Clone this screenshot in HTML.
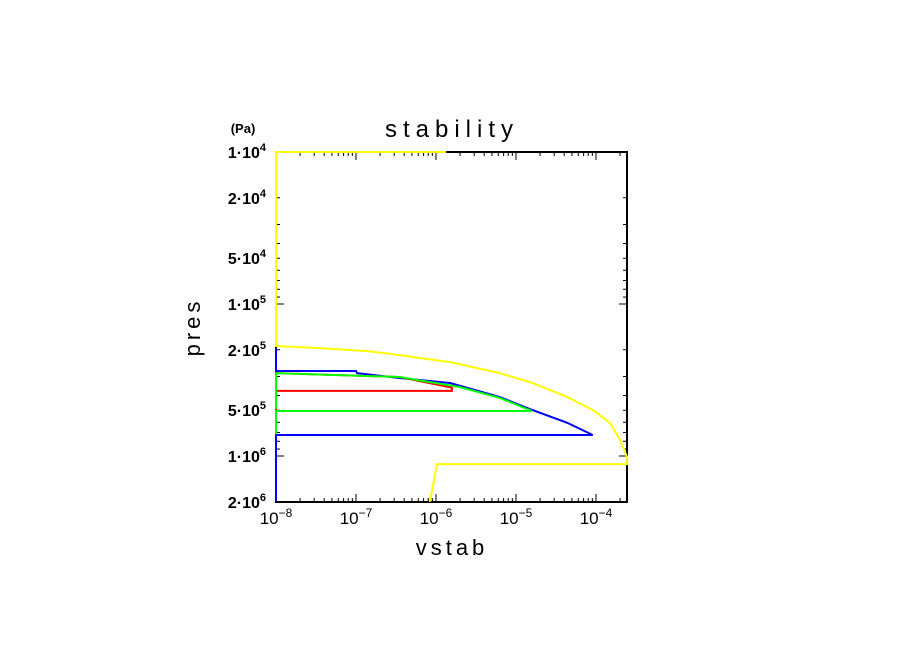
<!DOCTYPE html>
<html><head><meta charset="utf-8">
<style>
html,body{margin:0;padding:0;background:#fff;}
svg{display:block;font-family:"Liberation Sans",sans-serif;}
</style></head>
<body>
<svg id="chart" width="904" height="654" viewBox="0 0 904 654">
  <text x="452" y="137" text-anchor="middle" font-size="24" letter-spacing="6">stability</text>
  <text x="243" y="133" text-anchor="middle" font-size="13" font-weight="bold">(Pa)</text>
  <text x="452" y="555" text-anchor="middle" font-size="22" letter-spacing="4">vstab</text>
  <text transform="translate(200,327) rotate(-90)" text-anchor="middle" font-size="22" letter-spacing="4">pres</text>
  <g id="axes"></g>
  <g id="series"></g>
</svg>
<script>
const xTickExps = [-8, -7, -6, -5, -4];
const yTickVals = [1e4, 2e4, 5e4, 1e5, 2e5, 5e5, 1e6, 2e6];
const yTickMant = ["1", "2", "5", "1", "2", "5", "1", "2"];
const yTickExp = ["4", "4", "4", "5", "5", "5", "6", "6"];

const yellowX = [1.33e-6, 1e-8, 1e-8, 3.5e-8, 1.4e-7, 3.5e-7, 1.5e-6, 6.3e-6, 1.6e-5, 4.4e-5, 9.1e-5, 1.5e-4, 2.0e-4, 2.45e-4, 2.45e-4, 1.03e-6, 8.4e-7];
const yellowP = [1e4, 1e4, 1.89e5, 1.95e5, 2.04e5, 2.17e5, 2.41e5, 2.85e5, 3.31e5, 4.1e5, 4.98e5, 6.06e5, 7.86e5, 1.02e6, 1.13e6, 1.13e6, 2e6];
const blueX = [1e-8, 1e-8, 1e-7, 1.03e-7, 3.5e-7, 1.5e-6, 6.3e-6, 1.6e-5, 4.4e-5, 9.1e-5, 1e-8, 1e-8];
const blueP = [1.95e5, 2.76e5, 2.76e5, 2.85e5, 3.07e5, 3.31e5, 4.1e5, 4.98e5, 6.06e5, 7.28e5, 7.28e5, 2e6];
const redX = [1e-8, 3.5e-7, 1.58e-6, 1.58e-6, 1e-8, 1e-8];
const redP = [2.85e5, 3.02e5, 3.55e5, 3.73e5, 3.73e5, 5.06e5];
const greenX = [1e-8, 1e-8, 3.5e-7, 2e-6, 6.3e-6, 1.58e-5, 1e-8, 1e-8];
const greenP = [4.9e5, 2.85e5, 3.02e5, 3.52e5, 4.15e5, 5.06e5, 5.06e5, 7.2e5];

const X0 = 276, X1 = 627, Y0 = 152, Y1 = 502;
const xMinLog = -8, pxPerDecX = 80;
const yMinLog = 4, pxPerDecY = 152;
function xs(v){ return X0 + (Math.log10(v) - xMinLog) * pxPerDecX; }
function ys(p){ return Y0 + (Math.log10(p) - yMinLog) * pxPerDecY; }

const NS = "http://www.w3.org/2000/svg";
const axes = document.getElementById('axes');
const seriesG = document.getElementById('series');

function line(parent, x1, y1, x2, y2, name){
  const l = document.createElementNS(NS, 'line');
  l.setAttribute('x1', x1); l.setAttribute('y1', y1);
  l.setAttribute('x2', x2); l.setAttribute('y2', y2);
  l.setAttribute('stroke', '#000'); l.setAttribute('stroke-width', '1');
  
  
  parent.appendChild(l);
}

const frame = document.createElementNS(NS, 'rect');
frame.setAttribute('x', X0); frame.setAttribute('y', Y0);
frame.setAttribute('width', X1 - X0); frame.setAttribute('height', Y1 - Y0);
frame.setAttribute('fill', 'none'); frame.setAttribute('stroke', '#000'); frame.setAttribute('stroke-width', '2');


axes.appendChild(frame);

for (let e = -8; e <= -4; e++) {
  for (let m = 1; m <= 9; m++) {
    const v = m * Math.pow(10, e);
    const x = xs(v);
    if (x > X1 + 0.5) continue;
    const len = m === 1 ? 8 : 4;
    line(axes, x, Y1, x, Y1 - len, 'x-tick');
    line(axes, x, Y0, x, Y0 + len, 'x-tick-top');
  }
}
xTickExps.forEach(e => {
  const t = document.createElementNS(NS, 'text');
  t.setAttribute('x', xs(Math.pow(10, e)));
  t.setAttribute('y', 524);
  t.setAttribute('text-anchor', 'middle');
  t.setAttribute('font-size', '17');
  t.innerHTML = '10<tspan dy="-7" font-size="12">' + (e < 0 ? '\u2212' + (-e) : e) + '</tspan>';
  
  
  axes.appendChild(t);
});

for (let e = 4; e <= 6; e++) {
  for (let m = 1; m <= 9; m++) {
    const p = m * Math.pow(10, e);
    const y = ys(p);
    if (y > Y1 + 0.5) continue;
    const len = m === 1 ? 8 : 4;
    line(axes, X0, y, X0 + len, y, 'y-tick');
    line(axes, X1, y, X1 - len, y, 'y-tick-right');
  }
}
yTickVals.forEach((p, i) => {
  const t = document.createElementNS(NS, 'text');
  t.setAttribute('x', 266);
  t.setAttribute('y', ys(p) + 6);
  t.setAttribute('text-anchor', 'end');
  t.setAttribute('font-size', '16');
  t.setAttribute('font-weight', 'bold');
  t.innerHTML = yTickMant[i] + '\u00b710<tspan dy="-7" font-size="11">' + yTickExp[i] + '</tspan>';
  
  
  axes.appendChild(t);
});

function series(xsArr, psArr, color, name){
  const pl = document.createElementNS(NS, 'polyline');
  pl.setAttribute('points', xsArr.map((v, i) => xs(v).toFixed(1) + ',' + ys(psArr[i]).toFixed(1)).join(' '));
  pl.setAttribute('fill', 'none');
  pl.setAttribute('stroke', color);
  pl.setAttribute('stroke-width', '2');
  
  
  seriesG.appendChild(pl);
}
series(yellowX, yellowP, '#ffff00', 'yellow-series');
series(blueX, blueP, '#0000ff', 'blue-series');
series(redX, redP, '#ff0000', 'red-series');
series(greenX, greenP, '#00ff00', 'green-series');
</script>
</body></html>
